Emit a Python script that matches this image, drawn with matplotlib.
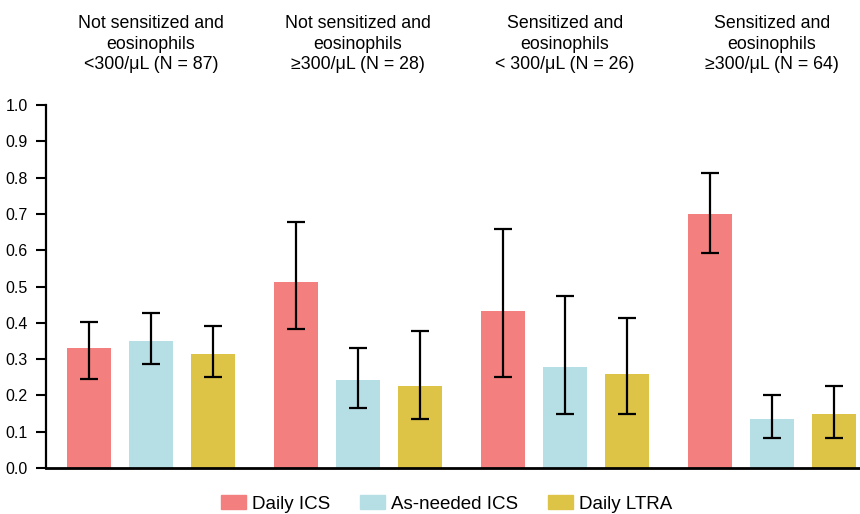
import matplotlib.pyplot as plt
import numpy as np
from matplotlib.patches import Patch

plt.rcParams['font.family'] = ['Liberation Sans', 'DejaVu Sans']

# groups (titles above each group)
groups = ['Not sensitized and\neosinophils\n<300/μL (N = 87)',
          'Not sensitized and\neosinophils\n≥300/μL (N = 28)',
          'Sensitized and\neosinophils\n< 300/μL (N = 26)',
          'Sensitized and\neosinophils\n≥300/μL (N = 64)']
treatments = ['Daily ICS', 'As-needed ICS', 'Daily LTRA']
colors = ['#F47F7F', '#B5DEE5', '#DDC346']

# values per treatment, one per group
daily_ics = [0.331, 0.512, 0.432, 0.700]
daily_ics_lo = [0.245, 0.382, 0.251, 0.591]
daily_ics_hi = [0.402, 0.678, 0.658, 0.812]

asneeded_ics = [0.350, 0.242, 0.278, 0.135]
asneeded_ics_lo = [0.287, 0.165, 0.149, 0.082]
asneeded_ics_hi = [0.427, 0.331, 0.474, 0.200]

daily_ltra = [0.314, 0.226, 0.259, 0.149]
daily_ltra_lo = [0.251, 0.134, 0.149, 0.082]
daily_ltra_hi = [0.391, 0.377, 0.413, 0.227]

vals = [daily_ics, asneeded_ics, daily_ltra]
los = [daily_ics_lo, asneeded_ics_lo, daily_ltra_lo]
his = [daily_ics_hi, asneeded_ics_hi, daily_ltra_hi]

fig = plt.figure(figsize=(8.6, 5.14), dpi=100)
ax = fig.add_axes([0.0535, 0.0895, 0.9465, 0.7062])

x = np.arange(len(groups))
offset = 0.30
width = 0.213
for i in range(3):
    v = np.array(vals[i])
    err = [v - np.array(los[i]), np.array(his[i]) - v]
    ax.bar(x + (i - 1) * offset, v, width, color=colors[i], zorder=1)
    ax.errorbar(x + (i - 1) * offset, v, yerr=err, fmt='none', ecolor='black',
                elinewidth=1.6, capsize=6.5, capthick=1.6, zorder=3)

# group titles
for xi, g in zip(x, groups):
    ax.text(xi, 1.168, g, ha='center', va='center',
            fontsize=12.8, linespacing=1.3, clip_on=False)

ax.set_xlim(-0.507, 3.425)
ax.set_ylim(0, 1.0)
ax.set_yticks(np.arange(0, 1.01, 0.1))
ax.set_yticklabels([f'{t:.1f}' for t in np.arange(0, 1.01, 0.1)], fontsize=11.5)
ax.set_xticks([])
ax.tick_params(axis='y', direction='out', length=7, width=1.5, pad=6)
ax.spines['top'].set_visible(False)
ax.spines['right'].set_visible(False)
ax.spines['left'].set_linewidth(1.6)
ax.spines['bottom'].set_linewidth(2)

handles = [Patch(color=c, label=t) for c, t in zip(colors, treatments)]
fig.legend(handles=handles, loc='center', bbox_to_anchor=(0.519, 0.0195),
           ncol=3, frameon=False, fontsize=13.5, handlelength=1.35,
           handleheight=0.8, columnspacing=1.6, handletextpad=0.3)

fig.savefig('out.png', dpi=100)
